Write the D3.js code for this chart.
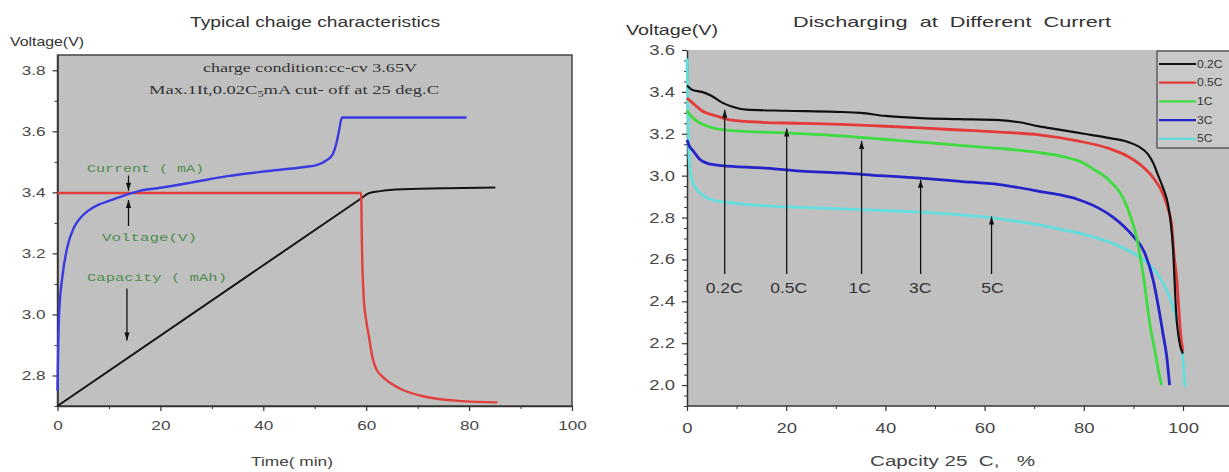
<!DOCTYPE html>
<html><head><meta charset="utf-8">
<script src="https://cdn.jsdelivr.net/npm/d3@7"></script>
<style>
body{margin:0;background:#fff;}
svg{display:block;}
text{font-family:"Liberation Sans",Arial,sans-serif;}
</style>
</head><body>
<svg id="c" width="1229" height="472"></svg>
<script>
// ---------------- DATA ----------------
// Left chart: typical charge characteristics (x = time min, y = voltage scale)
const chargeVoltage = [[0,2.75],[0.15,2.9],[0.3,3.0],[1,3.13],[1.9,3.22],[3.2,3.285],[4.4,3.315],[6,3.34],[8,3.36],[10,3.372],[13,3.39],[16,3.405],[20,3.415],[26,3.432],[33,3.453],[41,3.47],[48,3.483],[50.5,3.49],[52.3,3.505],[53.5,3.525],[54.2,3.56],[54.7,3.6],[55.3,3.645],[60,3.645],[79.5,3.645]];
const chargeCurrent = [[0,3.398],[59,3.398],[59.2,3.2],[59.5,3.06],[60,2.98],[60.5,2.93],[61.2,2.86],[62,2.82],[63.1,2.797],[65,2.772],[66.8,2.755],[71.3,2.731],[78.8,2.716],[85.5,2.712]];
const chargeCapacity = [[0,2.7],[59,3.38],[60.5,3.397],[62.7,3.404],[67.2,3.41],[78.4,3.414],[85.1,3.416]];
const leftXTicks = [0,20,40,60,80,100];
const leftXMinor = [10,30,50,70,90];
const leftYTicks = [2.8,3.0,3.2,3.4,3.6,3.8];
const leftYMinor = [2.7,2.9,3.1,3.3,3.5,3.7];

// Right chart: discharging at different current (x = capacity %, y = voltage)
const seriesNames = ["0.2C","0.5C","1C","3C","5C"];
const seriesColors = ["#111111","#e43a3a","#3edc3e","#2424c8","#62dede"];
const dis02C = [[0,3.43],[1,3.41],[3,3.40],[5,3.38],[7,3.35],[9,3.33],[12,3.315],[20,3.31],[30,3.305],[35,3.30],[40,3.285],[47,3.275],[55,3.27],[63,3.265],[67,3.255],[71,3.235],[75,3.22],[80,3.20],[85,3.18],[89,3.16],[91,3.14],[93,3.10],[94,3.06],[95,3.0],[96,2.94],[97,2.86],[97.5,2.78],[98,2.65],[98.3,2.5],[98.6,2.35],[99,2.25],[99.5,2.18],[100,2.15]];
const dis05C = [[0,3.37],[1,3.35],[3,3.31],[6,3.285],[9,3.265],[15,3.255],[23,3.25],[31,3.245],[39,3.237],[47,3.228],[55,3.218],[63,3.208],[71,3.195],[79,3.165],[85,3.13],[89,3.09],[92,3.04],[94,2.99],[96,2.91],[97,2.84],[97.7,2.77],[98.2,2.62],[98.8,2.49],[99.2,2.35],[99.5,2.25],[100,2.16]];
const dis1C = [[0,3.31],[1,3.28],[2,3.26],[5,3.23],[9,3.215],[19,3.205],[31,3.19],[39,3.175],[47,3.16],[55,3.145],[63,3.13],[71,3.11],[76,3.09],[79.5,3.065],[82,3.03],[85,2.98],[88,2.89],[89.5,2.80],[90.5,2.72],[91.4,2.61],[92.2,2.49],[92.8,2.38],[93.4,2.28],[94.2,2.18],[94.8,2.10],[95.3,2.04],[95.7,2.0]];
const dis3C = [[0,3.17],[0.5,3.14],[1.2,3.12],[2.5,3.08],[4,3.06],[7,3.048],[15,3.037],[23,3.022],[31,3.013],[39,3.0],[47,2.988],[55,2.973],[63,2.957],[71,2.925],[79,2.885],[83,2.845],[86,2.80],[88,2.76],[90,2.71],[92.3,2.63],[94,2.50],[95.3,2.34],[96,2.24],[96.7,2.14],[97.3,2.0]];
const dis5C = [[0,3.56],[0.2,3.3],[0.4,3.1],[0.8,3.0],[1.5,2.95],[3,2.91],[5,2.885],[9,2.87],[19,2.852],[27,2.845],[35,2.838],[43,2.83],[51,2.82],[59,2.805],[67,2.78],[72,2.76],[76,2.74],[80,2.72],[86,2.675],[90.6,2.62],[94.7,2.535],[97.3,2.42],[99,2.28],[100,2.12],[100.4,1.99]];
const rightXTicks = [0,20,40,60,80,100];
const rightXMinor = [10,30,50,70,90,110];
const rightYTicks = [2.0,2.2,2.4,2.6,2.8,3.0,3.2,3.4,3.6];
// annotation arrows on the right chart
const arrowX = [7.6,20.1,35.2,47.1,61.4];
const arrowTip = [3.315,3.225,3.165,2.98,2.805];
const arrowBase = 2.53;
const arrowLabelX = [7.5,20.5,34.8,47,61.6];

// ---------------- DRAW ----------------
const svg = d3.select("#c");
const STR = 1.32; // horizontal text stretch of the reference

function stretch(sel, f){
  sel.each(function(){
    const w = this.getComputedTextLength();
    d3.select(this).attr("textLength", w*f).attr("lengthAdjust","spacingAndGlyphs");
  });
}
function fitText(sel, w){
  sel.attr("textLength", w).attr("lengthAdjust","spacingAndGlyphs");
}
function arrow(g, x, y1, y2, col){ // line from y1 to head at y2
  g.append("line").attr("x1",x).attr("x2",x).attr("y1",y1).attr("y2",y2)
    .attr("stroke",col).attr("stroke-width",1.3);
  const dir = y2 > y1 ? 1 : -1;
  g.append("path").attr("d",`M${x},${y2} L${x-2.6},${y2-dir*8} L${x+2.6},${y2-dir*8} Z`).attr("fill",col);
}

// ===== LEFT CHART =====
const xL = d3.scaleLinear().domain([0,100]).range([57.5,572]);
const yL = d3.scaleLinear().domain([2.7,3.85]).range([406,55]);
const gL = svg.append("g");
gL.append("rect").attr("x",xL(0)).attr("y",yL(3.85)).attr("width",xL(100)-xL(0)).attr("height",yL(2.7)-yL(3.85))
  .attr("fill","#c0c0c0").attr("stroke","#444").attr("stroke-width",1.5);

function styleAxis(g, fs){
  g.select(".domain").attr("stroke","#333").attr("stroke-width",1.5);
  g.selectAll(".tick line").attr("stroke","#333").attr("stroke-width",1.2);
  g.selectAll(".tick text").attr("fill","#484848").style("font-size",fs+"px").style("font-family","'Liberation Sans',Arial,sans-serif");
}
const axLX = gL.append("g").attr("transform",`translate(0,${yL(2.7)})`)
  .call(d3.axisBottom(xL).tickValues(leftXTicks).tickSize(5).tickPadding(10).tickSizeOuter(0));
styleAxis(axLX, 13);
gL.append("g").attr("transform",`translate(0,${yL(2.7)})`)
  .call(d3.axisBottom(xL).tickValues(leftXMinor).tickSize(3).tickFormat("").tickSizeOuter(0))
  .call(g=>{g.select(".domain").remove(); g.selectAll("line").attr("stroke","#333");});
const axLY = gL.append("g").attr("transform",`translate(${xL(0)},0)`)
  .call(d3.axisLeft(yL).tickValues(leftYTicks).tickFormat(d3.format(".1f")).tickSize(5).tickPadding(7).tickSizeOuter(0));
styleAxis(axLY, 13);
gL.append("g").attr("transform",`translate(${xL(0)},0)`)
  .call(d3.axisLeft(yL).tickValues(leftYMinor).tickSize(3).tickFormat("").tickSizeOuter(0))
  .call(g=>{g.select(".domain").remove(); g.selectAll("line").attr("stroke","#333");});
stretch(axLX.selectAll(".tick text"), STR);
stretch(axLY.selectAll(".tick text"), STR);

const lineL = d3.line().x(d=>xL(d[0])).y(d=>yL(d[1])).curve(d3.curveMonotoneX);
gL.append("path").datum(chargeCapacity).attr("d",lineL).attr("fill","none").attr("stroke","#151515").attr("stroke-width",2);
gL.append("path").datum(chargeCurrent).attr("d",lineL).attr("fill","none").attr("stroke","#e2403c").attr("stroke-width",2.4);
gL.append("path").datum(chargeVoltage).attr("d",lineL).attr("fill","none").attr("stroke","#3a3ae2").attr("stroke-width",2.4);

// texts left
gL.append("text").attr("x",315).attr("y",27).attr("text-anchor","middle").attr("fill","#333")
  .style("font-size","14px").text("Typical chaige characteristics").call(fitText, 250);
gL.append("text").attr("x",10).attr("y",46).attr("fill","#333")
  .style("font-size","13px").text("Voltage(V)").call(fitText, 74);
gL.append("text").attr("x",292).attr("y",466).attr("text-anchor","middle").attr("fill","#444")
  .style("font-size","12px").text("Time( min)").call(fitText, 82);
gL.append("text").attr("x",310).attr("y",72).attr("text-anchor","middle").attr("fill","#333")
  .style("font-size","12px").style("font-family","'Liberation Serif','Times New Roman',serif")
  .text("charge condition:cc-cv 3.65V").call(fitText, 214);
const t2 = gL.append("text").attr("x",294).attr("y",94).attr("text-anchor","middle").attr("fill","#333")
  .style("font-size","12px").style("font-family","'Liberation Serif','Times New Roman',serif");
t2.append("tspan").text("Max.1It,0.02C");
t2.append("tspan").attr("dy",3).style("font-size","8px").text("5");
t2.append("tspan").attr("dy",-3).text("mA cut- off at 25 deg.C");
t2.call(fitText, 290);

const green = "#4f8c4f";
function monoText(x,y,w,s){
  gL.append("text").attr("x",x).attr("y",y).attr("fill",green)
    .style("font-size","11px").style("font-family","'Liberation Mono','DejaVu Sans Mono',monospace")
    .text(s).call(fitText, w);
}
monoText(87,172,117,"Current ( mA)");
monoText(102,241,95,"Voltage(V)");
monoText(87,281,140,"Capacity ( mAh)");
arrow(gL, xL(13.8), yL(3.455), yL(3.405), "#111");
arrow(gL, xL(13.8), yL(3.29), yL(3.375), "#111");
arrow(gL, xL(13.5), yL(3.085), yL(2.915), "#111");

// ===== RIGHT CHART =====
const xR = d3.scaleLinear().domain([0,100]).range([687,1183]);
const yR = d3.scaleLinear().domain([1.9,3.6]).range([406,50]);
const gR = svg.append("g");
gR.append("rect").attr("x",xR(0)).attr("y",yR(3.6)).attr("width",1229-xR(0)).attr("height",yR(1.9)-yR(3.6))
  .attr("fill","#c0c0c0");
const axRX = gR.append("g").attr("transform",`translate(0,${yR(1.9)})`)
  .call(d3.axisBottom(xR).tickValues(rightXTicks).tickSize(5).tickPadding(12).tickSizeOuter(0));
axRX.select(".domain").attr("d",`M${xR(0)},0H1229`);
styleAxis(axRX, 14);
gR.append("g").attr("transform",`translate(0,${yR(1.9)})`)
  .call(d3.axisBottom(xR).tickValues(rightXMinor).tickSize(3).tickFormat("").tickSizeOuter(0))
  .call(g=>{g.select(".domain").remove(); g.selectAll("line").attr("stroke","#333");});
const axRY = gR.append("g").attr("transform",`translate(${xR(0)},0)`)
  .call(d3.axisLeft(yR).tickValues(rightYTicks).tickFormat(d3.format(".1f")).tickSize(5).tickPadding(7).tickSizeOuter(0));
styleAxis(axRY, 14);
const rightYMinor = d3.range(1.9,3.6001,0.05).filter(v=>!rightYTicks.some(t=>Math.abs(t-v)<1e-6));
gR.append("g").attr("transform",`translate(${xR(0)},0)`)
  .call(d3.axisLeft(yR).tickValues(rightYMinor).tickSize(3).tickFormat("").tickSizeOuter(0))
  .call(g=>{g.select(".domain").remove(); g.selectAll("line").attr("stroke","#333");});
stretch(axRX.selectAll(".tick text"), STR);
stretch(axRY.selectAll(".tick text"), STR);

const lineR = d3.line().x(d=>xR(d[0])).y(d=>yR(d[1])).curve(d3.curveMonotoneX);
const seriesData = [dis02C, dis05C, dis1C, dis3C, dis5C];
[4,3,2,1,0].forEach(i=>{
  gR.append("path").datum(seriesData[i]).attr("d",lineR).attr("fill","none")
    .attr("stroke",seriesColors[i]).attr("stroke-width", i===0?2.2:2.8);
});

// arrows + labels
arrowX.forEach((x,i)=>{
  arrow(gR, xR(x), yR(arrowBase), yR(arrowTip[i]), "#111");
  gR.append("text").attr("x",xR(arrowLabelX[i])).attr("y",yR(2.463)+5).attr("text-anchor","middle")
    .attr("fill","#333").style("font-size","14px").text(seriesNames[i]).call(stretch, 1.25);
});

// legend
const lg = gR.append("g");
lg.append("rect").attr("x",1157).attr("y",51).attr("width",90).attr("height",97)
  .attr("fill","#c9c9c9").attr("stroke","#444").attr("stroke-width",1.2);
seriesNames.forEach((s,i)=>{
  const y = 64 + i*18.7;
  lg.append("line").attr("x1",1159).attr("x2",1196).attr("y1",y).attr("y2",y)
    .attr("stroke",seriesColors[i]).attr("stroke-width",2.2);
  lg.append("text").attr("x",1197).attr("y",y+3.5).attr("fill","#333").style("font-size","10px").text(s).call(stretch,1.2);
});

// titles right
gR.append("text").attr("x",952).attr("y",27).attr("text-anchor","middle").attr("fill","#333")
  .style("font-size","15px").style("white-space","pre").text("Discharging  at  Different  Currert").call(fitText, 318);
gR.append("text").attr("x",626).attr("y",35).attr("fill","#333")
  .style("font-size","14px").text("Voltage(V)").call(fitText, 92);
gR.append("text").attr("x",870).attr("y",466).attr("fill","#444")
  .style("font-size","14px").style("white-space","pre").text("Capcity 25  C,   %").call(fitText, 165);
</script>
</body></html>
